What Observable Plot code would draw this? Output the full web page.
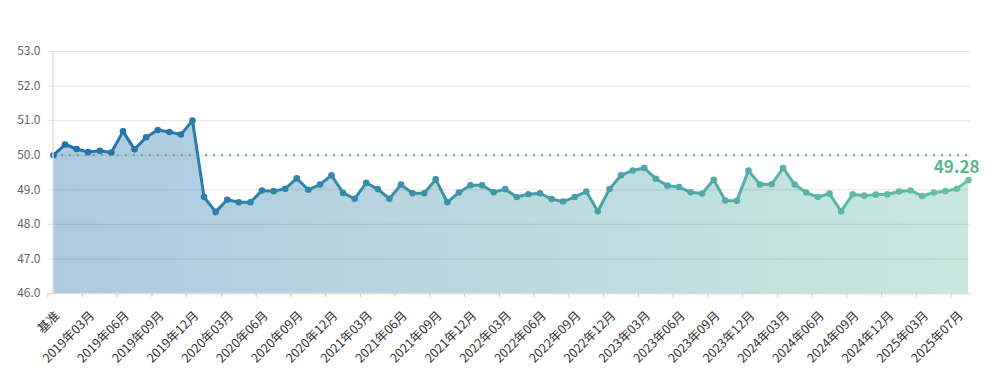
<!DOCTYPE html>
<html>
<head>
<meta charset="utf-8">
<script src="https://cdn.jsdelivr.net/npm/d3@7"></script>
<script src="https://cdn.jsdelivr.net/npm/@observablehq/plot@0.6"></script>
<style>
  html, body { margin: 0; padding: 0; background: #fff; }
  #chart { width: 1000px; height: 392px; }
</style>
</head>
<body>
<div id="chart"></div>
<script>
const months = [
  "基准",
  "2019年01月","2019年02月","2019年03月","2019年04月","2019年05月","2019年06月","2019年07月","2019年08月","2019年09月","2019年10月","2019年11月","2019年12月",
  "2020年01月","2020年02月","2020年03月","2020年04月","2020年05月","2020年06月","2020年07月","2020年08月","2020年09月","2020年10月","2020年11月","2020年12月",
  "2021年01月","2021年02月","2021年03月","2021年04月","2021年05月","2021年06月","2021年07月","2021年08月","2021年09月","2021年10月","2021年11月","2021年12月",
  "2022年01月","2022年02月","2022年03月","2022年04月","2022年05月","2022年06月","2022年07月","2022年08月","2022年09月","2022年10月","2022年11月","2022年12月",
  "2023年01月","2023年02月","2023年03月","2023年04月","2023年05月","2023年06月","2023年07月","2023年08月","2023年09月","2023年10月","2023年11月","2023年12月",
  "2024年01月","2024年02月","2024年03月","2024年04月","2024年05月","2024年06月","2024年07月","2024年08月","2024年09月","2024年10月","2024年11月","2024年12月",
  "2025年01月","2025年02月","2025年03月","2025年04月","2025年05月","2025年07月","2025年08月"
];

const values = [
  50.00,
  50.31, 50.18, 50.09, 50.13, 50.08, 50.69, 50.17, 50.52, 50.73, 50.67, 50.60, 51.00,
  48.79, 48.36, 48.71, 48.64, 48.64, 48.98, 48.96, 49.03, 49.33, 49.00, 49.15, 49.42,
  48.91, 48.74, 49.20, 49.02, 48.74, 49.15, 48.90, 48.90, 49.30, 48.64, 48.92, 49.13,
  49.13, 48.93, 49.02, 48.79, 48.87, 48.90, 48.73, 48.66, 48.79, 48.95, 48.38, 49.02,
  49.42, 49.56, 49.63, 49.32, 49.12, 49.08, 48.93, 48.89, 49.29, 48.69, 48.68, 49.56,
  49.15, 49.16, 49.63, 49.15, 48.92, 48.79, 48.89, 48.38, 48.87, 48.83, 48.86, 48.87,
  48.95, 48.98, 48.82, 48.92, 48.96, 49.03, 49.28
];

const yTicks = [46, 47, 48, 49, 50, 51, 52, 53];
const baseline = 50;
const labelStep = 3;

const colorStart = "#1f6fad";
const colorEnd = "#66c2a5";
const labelColor = "#5cb48e";
const fontFamily = "'Noto Sans CJK SC', 'Noto Sans', sans-serif";

const data = values.map((v, i) => ({i, v, m: months[i]}));
const last = data[data.length - 1];
const labelIdx = data.map(d => d.i).filter(i => i % labelStep === 0);

const plot = Plot.plot({
  width: 1000,
  height: 392,
  marginLeft: 48,
  marginRight: 30,
  marginTop: 51,
  marginBottom: 99,
  x: {type: "linear", domain: [0, data.length - 1], insetLeft: 5, insetRight: 2, axis: null},
  y: {domain: [yTicks[0], yTicks[yTicks.length - 1]], axis: null},
  style: {fontFamily, fontSize: "12px", background: "#fff", overflow: "visible"},
  marks: [
    Plot.areaY(data, {x: "i", y1: yTicks[0], y2: "v", fill: "url(#lg)", fillOpacity: 0.37}),
    Plot.ruleY(yTicks.slice(1), {stroke: "#000", strokeOpacity: 0.1}),
    Plot.ruleY([yTicks[0]], {stroke: "#dcdcdc", strokeWidth: 1.5}),
    Plot.ruleY([baseline], {x1: 0, x2: data.length - 1, stroke: "#58b985", strokeWidth: 2.2, strokeDasharray: "2,6"}),
    Plot.lineY(data, {x: "i", y: "v", stroke: "url(#lg)", strokeWidth: 3, strokeLinejoin: "round"}),
    Plot.dot(data, {x: "i", y: "v", r: 3.3, fill: "url(#lg)", stroke: "none"}),
    Plot.text([last], {x: "i", y: "v", text: d => d.v.toFixed(2), textAnchor: "end", lineAnchor: "bottom", dx: 11, dy: -7, fontSize: 17, fontWeight: "bold", fill: labelColor}),
    Plot.axisY({ticks: yTicks, tickFormat: d3.format(".1f"), tickSize: 0, tickPadding: 8, fontSize: 12, fill: "#666", label: null}),
    Plot.axisX({ticks: labelIdx.map(i => i - 0.5), tickSize: 4, tickFormat: () => "", stroke: "#cccccc", label: null}),
    Plot.axisX({ticks: labelIdx, tickFormat: i => months[i], tickSize: 0, tickPadding: 20, tickRotate: -45, dx: 4, fontSize: 12.5, fill: "#333", label: null})
  ]
});

// gradient defined from the x scale
const xs = plot.scale("x");
const ys = plot.scale("y");
const svg = d3.select(plot.tagName.toLowerCase() === "svg" ? plot : plot.querySelector("svg"));
const defs = svg.insert("defs", ":first-child");
const lg = defs.append("linearGradient")
  .attr("id", "lg")
  .attr("gradientUnits", "userSpaceOnUse")
  .attr("x1", xs.apply(0)).attr("x2", xs.apply(data.length - 1))
  .attr("y1", 0).attr("y2", 0);
lg.append("stop").attr("offset", "0%").attr("stop-color", colorStart);
lg.append("stop").attr("offset", "100%").attr("stop-color", colorEnd);

// y axis line on left edge of frame
svg.append("line")
  .attr("x1", xs.range[0]).attr("x2", xs.range[0])
  .attr("y1", ys.apply(yTicks[yTicks.length - 1])).attr("y2", ys.apply(yTicks[0]))
  .attr("stroke", "#e0e0e0").attr("stroke-width", 1.5);

document.getElementById("chart").appendChild(plot);
</script>
</body>
</html>
